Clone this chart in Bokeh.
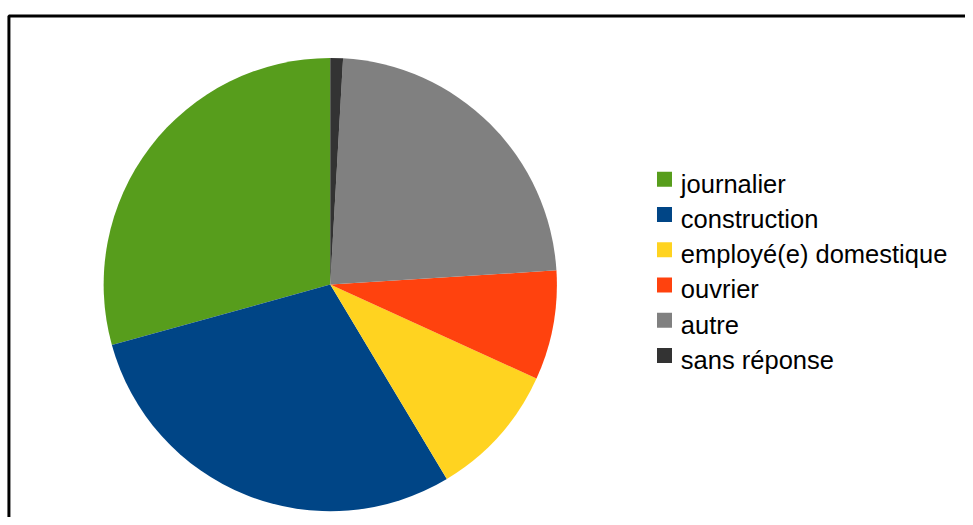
import math
from bokeh.plotting import figure
from bokeh.models import ColumnDataSource, Range1d
from bokeh.core.properties import value
from bokeh.embed import file_html
from bokeh.resources import INLINE

categories = ["journalier", "construction", "employé(e) domestique", "ouvrier", "autre", "sans réponse"]
values = [29.3, 29.3, 9.6, 7.8, 23.1, 0.9]
colors = ["#579d1c", "#004586", "#ffd320", "#ff420e", "#808080", "#333333"]

REF_W, REF_H = 973, 525
W, H = 965, 517
p = figure(width=W, height=H, output_backend="svg", toolbar_location=None,
           x_range=Range1d(0, REF_W), y_range=Range1d(0, REF_H),
           min_border=0, outline_line_color=None)
p.axis.visible = False
p.grid.visible = False
p.background_fill_color = "white"
p.border_fill_color = "white"


def sy(y):
    return REF_H - y


total = sum(values)
starts, ends = [], []
a = math.pi / 2
for v in values:
    starts.append(a)
    a += 2 * math.pi * v / total
    ends.append(a)

src = ColumnDataSource(dict(cat=categories, start=starts, end=ends, color=colors))
p.wedge(x=332.5, y=sy(288.5), radius=228.5, start_angle="start", end_angle="end",
        direction="anticlock", fill_color="color", line_color=None, source=src)

# frame
p.line(x=[8.5, 8.5, 1100], y=[-50, sy(15.8), sy(15.8)], line_color="black", line_width=3)

# legend
row0, step = 181.5, 35.8
ly = [sy(row0 + i * step) for i in range(len(categories))]
ty = [y - 4.5 for y in ly]
lsrc = ColumnDataSource(dict(cat=categories, color=colors, y=ly, ty=ty))
p.scatter(x=669.5, y="y", marker="square", size=15, fill_color="color", line_color=None, source=lsrc)
p.text(x=686, y="ty", text="cat", source=lsrc, text_font=value("Liberation Sans"),
       text_font_size="25.5px", text_baseline="alphabetic", text_color="black")

open("out.html", "w").write(file_html(p, INLINE))
